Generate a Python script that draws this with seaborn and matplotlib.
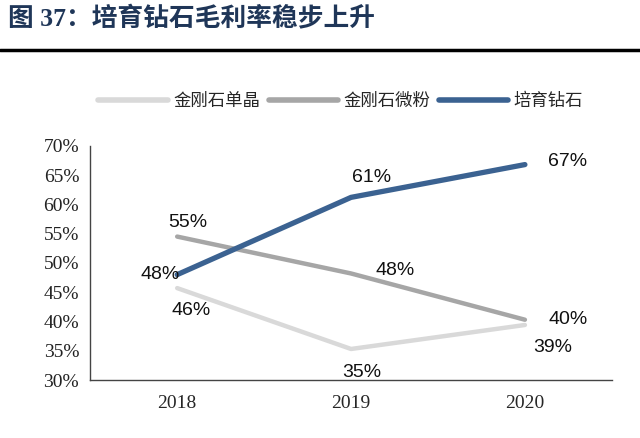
import matplotlib
matplotlib.use("Agg")
import matplotlib.pyplot as plt
import seaborn as sns
import pandas as pd
from matplotlib.ticker import MultipleLocator, FuncFormatter

years = ["2018", "2019", "2020"]
series_names = ["金刚石单晶", "金刚石微粉", "培育钻石"]
danjing = [45.7, 35.3, 39.4]
weifen = [54.5, 48.2, 40.3]
peiyu = [48.0, 61.2, 66.8]
labels_danjing = ["46%", "35%", "39%"]
labels_weifen = ["55%", "48%", "40%"]
labels_peiyu = ["48%", "61%", "67%"]
colors = ["#d9d9d9", "#a6a6a6", "#3b6291"]

sns.set_style("white")
plt.rcParams["font.family"] = ["Liberation Serif", "Noto Sans CJK SC"]

df = pd.DataFrame({
    "year": years * 3,
    "series": [n for n in series_names for _ in years],
    "value": danjing + weifen + peiyu,
})

fig = plt.figure(figsize=(6.4, 4.38), dpi=100)
ax = fig.add_axes([0.141, 0.1324, 0.815, 0.5346])

sns.lineplot(data=df, x="year", y="value", hue="series", hue_order=series_names,
             palette=colors, sort=False, ax=ax, linewidth=3.2)
for line in ax.get_lines():
    if line.get_color() == colors[2]:
        line.set_linewidth(3.8)

ax.set_xlim(-0.5, 2.5)
ax.set_ylim(30, 70)
ax.yaxis.set_major_locator(MultipleLocator(5))
ax.yaxis.set_major_formatter(FuncFormatter(lambda v, p: f"{v:.0f}%"))
ax.set_xlabel("")
ax.set_ylabel("")
ax.tick_params(axis="y", direction="out", length=4, labelsize=14, colors="#222222", pad=4)
ax.tick_params(axis="x", which="major", length=0, labelsize=14, pad=11)
ax.set_xticks([0.5, 1.5, 2.5], minor=True)
ax.tick_params(axis="x", which="minor", direction="in", length=5, color="#444444")
for s in ["top", "right"]:
    ax.spines[s].set_visible(False)
for s in ["left", "bottom"]:
    ax.spines[s].set_color("#444444")
    ax.spines[s].set_linewidth(1.0)

# data labels
offsets = {
    0: [(10, -16), (8, -17), (20, -16)],
    1: [(8, 10), (32, 2), (31, 0)],
    2: [(-12, 0), (15, 14), (31, 2)],
}
vals = [danjing, weifen, peiyu]
labs = [labels_danjing, labels_weifen, labels_peiyu]
for si in range(3):
    for xi in range(3):
        ax.annotate(labs[si][xi], (xi, vals[si][xi]), xytext=offsets[si][xi],
                    textcoords="offset points", ha="center", va="center",
                    fontsize=14, family="Liberation Sans", color="#111111")

leg = ax.legend(loc="center", bbox_to_anchor=(0.48, 1.19), ncol=3, frameon=False,
                handlelength=4.0, columnspacing=0.5, handletextpad=0.3,
                prop={"family": "Noto Sans CJK SC", "size": 12.5})
for h in leg.get_lines():
    h.set_linewidth(4)

fig.text(0.012, 0.958, "图 37：培育钻石毛利率稳步上升", fontsize=18.5, fontweight="bold",
         color="#1f3658", ha="left", va="center",
         family=["Liberation Serif", "Noto Sans CJK SC"])
fig.add_artist(plt.Line2D([0, 1], [0.885, 0.885], color="black", linewidth=2.5,
                          transform=fig.transFigure))

fig.savefig("out.png", dpi=100)
